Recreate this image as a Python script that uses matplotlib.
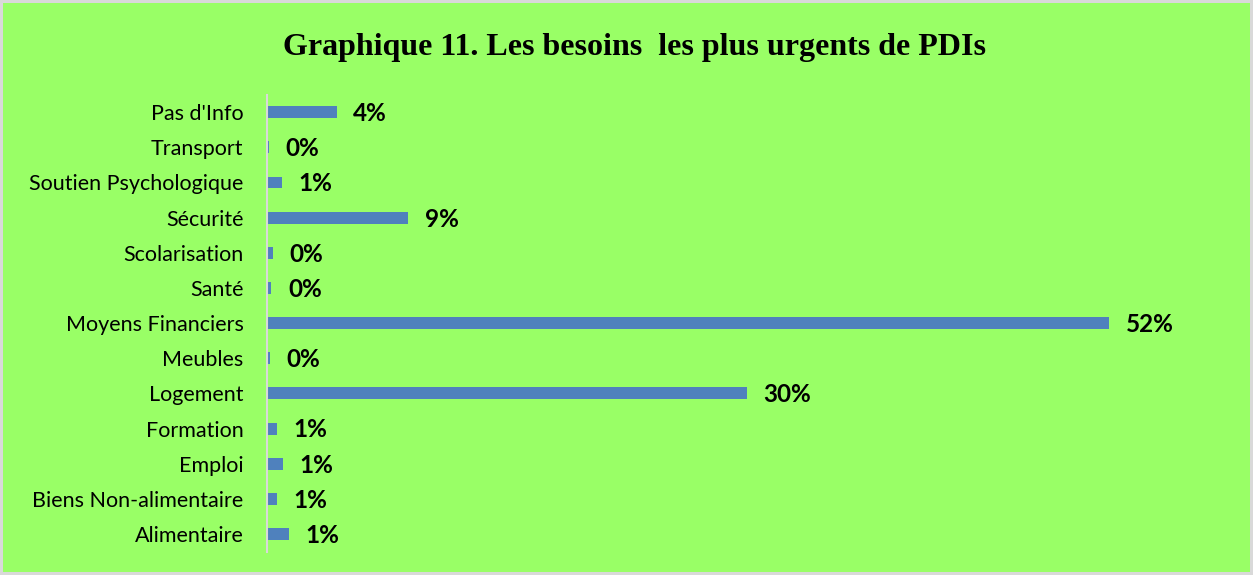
import matplotlib.pyplot as plt
from matplotlib.patches import Rectangle

# Data (top to bottom as in the chart)
categories = ["Pas d'Info", "Transport", "Soutien Psychologique", "Sécurité",
              "Scolarisation", "Santé", "Moyens Financiers", "Meubles",
              "Logement", "Formation", "Emploi", "Biens Non-alimentaire",
              "Alimentaire"]
values = [4.3, 0.1, 0.9, 8.7, 0.37, 0.27, 52.0, 0.16, 29.6, 0.62, 0.99, 0.62, 1.36]

bg_green = '#99FF66'
bar_blue = '#4F81BD'

fig = plt.figure(figsize=(12.53, 5.75), dpi=100)
fig.patch.set_facecolor('#D9D9D9')
# green panel with a thin grey frame
fig.patches.append(Rectangle((3 / 1253, 3 / 575), 1247 / 1253, 569 / 575,
                             transform=fig.transFigure, facecolor=bg_green,
                             edgecolor='none', zorder=-5))

ax = fig.add_axes([267 / 1253, 23.4 / 575, 972 / 1253, 457 / 575])
ax.set_facecolor('none')
ax.set_zorder(5)

n = len(categories)
ypos = list(range(n))
ax.barh(ypos, values, height=0.34, color=bar_blue)
ax.set_ylim(n - 0.5, -0.5)
ax.set_xlim(0, 60)
ax.set_yticks(ypos)
ax.set_yticklabels(categories, fontsize=15.5, family='Lato')
ax.tick_params(axis='y', length=0, pad=17)
ax.set_xticks([])

for s in ['top', 'right', 'bottom']:
    ax.spines[s].set_visible(False)
ax.spines['left'].set_color('#D9D9D9')
ax.spines['left'].set_linewidth(1.5)

for y, v in zip(ypos, values):
    ax.annotate(f"{round(v):d}%", (v, y), xytext=(12, -1), textcoords='offset points',
                ha='left', va='center', fontsize=17.5, fontweight='bold', family='Lato')

fig.text(634 / 1253, 1 - 47 / 575, "Graphique 11. Les besoins  les plus urgents de PDIs",
         ha='center', va='center', fontsize=23, fontweight='bold',
         family='Liberation Serif', zorder=6)

fig.savefig('out.png', dpi=100, facecolor=fig.get_facecolor())
